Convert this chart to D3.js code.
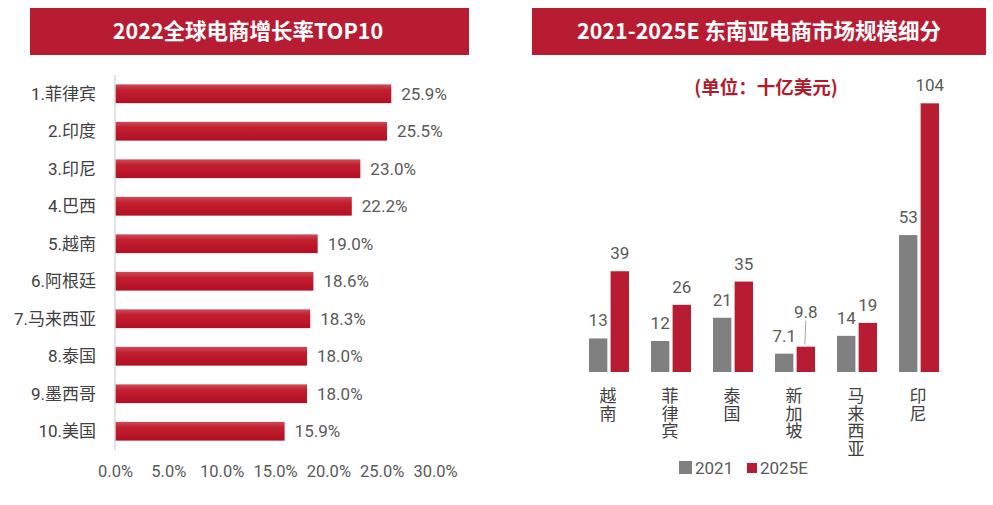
<!DOCTYPE html>
<html><head><meta charset="utf-8">
<script src="https://cdn.jsdelivr.net/npm/d3@7"></script>
<style>
html,body{margin:0;padding:0;background:#fff;}
svg{display:block;}
</style></head>
<body>
<svg id="c" width="993" height="505"></svg>
<script>
// ---------- data ----------
const leftTitle = "2022全球电商增长率TOP10";
const leftCats = ["1.菲律宾","2.印度","3.印尼","4.巴西","5.越南","6.阿根廷","7.马来西亚","8.泰国","9.墨西哥","10.美国"];
const leftVals = [25.9,25.5,23.0,22.2,19.0,18.6,18.3,18.0,18.0,15.9];
const leftTicks = [0,5,10,15,20,25,30];

const rightTitle = "2021-2025E 东南亚电商市场规模细分";
const unitText = "(单位：十亿美元)";
const rightCats = ["越南","菲律宾","泰国","新加坡","马来西亚","印尼"];
const seriesNames = ["2021","2025E"];
const vals2021 = [13,12,21,7.1,14,53];
const vals2025 = [39,26,35,9.8,19,104];

// ---------- styles ----------
const RED = "#b81c32";
const GRAY = "#808080";
const TXT = "#595959";
const CAT = "#404040";
const NUMF = "Roboto, 'Noto Sans CJK SC', sans-serif";
const CJKF = "'Noto Sans CJK SC', sans-serif";

const svg = d3.select("#c");
const defs = svg.append("defs");
const grad = defs.append("linearGradient").attr("id","barGrad").attr("x1",0).attr("y1",0).attr("x2",0).attr("y2",1);
grad.append("stop").attr("offset","0%").attr("stop-color","#cf4a5a");
grad.append("stop").attr("offset","30%").attr("stop-color","#c2202f");
grad.append("stop").attr("offset","100%").attr("stop-color","#b30f25");

// ---------- left panel ----------
svg.append("rect").attr("x",30).attr("y",8).attr("width",439).attr("height",47).attr("fill",RED);
svg.append("text").attr("x",248).attr("y",39).attr("text-anchor","middle")
  .attr("fill","#fff").attr("font-family",CJKF).attr("font-weight","bold").attr("font-size",21.5)
  .text(leftTitle);

const xL = d3.scaleLinear().domain([0,30]).range([115,435]);
const yL = d3.scaleBand().domain(leftCats).range([75,450]).paddingInner(0.5).paddingOuter(0.25);

const gL = svg.append("g");
gL.selectAll("rect.bar").data(leftVals).join("rect").attr("class","bar")
  .attr("x",xL(0)).attr("y",(d,i)=>yL(leftCats[i]))
  .attr("width",d=>xL(d)-xL(0)).attr("height",yL.bandwidth())
  .attr("fill","url(#barGrad)");

gL.append("line").attr("x1",xL(0)).attr("x2",xL(0)).attr("y1",75).attr("y2",450)
  .attr("stroke","#d9d9d9").attr("stroke-width",1.5);

gL.selectAll("text.cat").data(leftCats).join("text").attr("class","cat")
  .attr("x",96).attr("y",d=>yL(d)+yL.bandwidth()/2).attr("dy","0.35em")
  .attr("text-anchor","end").attr("fill",CAT).attr("font-family",NUMF).attr("font-size",17)
  .text(d=>d);

gL.selectAll("text.val").data(leftVals).join("text").attr("class","val")
  .attr("x",d=>xL(d)+10).attr("y",(d,i)=>yL(leftCats[i])+yL.bandwidth()/2).attr("dy","0.35em")
  .attr("fill",TXT).attr("font-family",NUMF).attr("font-size",17)
  .text(d=>d.toFixed(1)+"%");

const axL = d3.axisBottom(xL).tickValues(leftTicks).tickSize(0).tickFormat(d=>d.toFixed(1)+"%");
const axLg = svg.append("g").attr("transform","translate(0,462)").call(axL);
axLg.select(".domain").remove();
axLg.selectAll("text").attr("fill",TXT).attr("font-family",NUMF).attr("font-size",16.5).attr("dy","0.71em");

// ---------- right panel ----------
svg.append("rect").attr("x",532).attr("y",8).attr("width",454).attr("height",47).attr("fill",RED);
svg.append("text").attr("x",759).attr("y",39).attr("text-anchor","middle")
  .attr("fill","#fff").attr("font-family",CJKF).attr("font-weight","bold").attr("font-size",21.5)
  .text(rightTitle);

svg.append("text").attr("x",766).attr("y",94).attr("text-anchor","middle")
  .attr("fill","#b01c2e").attr("font-family",CJKF).attr("font-weight","bold").attr("font-size",18.5)
  .text(unitText);

const x0 = d3.scaleBand().domain(rightCats).range([578,950]).paddingInner(22/62).paddingOuter(0.177);
const x1 = d3.scaleBand().domain(seriesNames).range([0,x0.bandwidth()]).paddingInner(0.15);
const yR = d3.scaleLinear().domain([0,120]).range([372,62]);
const colors = {"2021":GRAY,"2025E":RED};

const rows = [];
rightCats.forEach((c,i)=>{
  rows.push({cat:c,s:"2021",v:vals2021[i]});
  rows.push({cat:c,s:"2025E",v:vals2025[i]});
});

const gR = svg.append("g");
gR.selectAll("rect").data(rows).join("rect")
  .attr("x",d=>x0(d.cat)+x1(d.s)).attr("y",d=>yR(d.v))
  .attr("width",x1.bandwidth()).attr("height",d=>yR(0)-yR(d.v))
  .attr("fill",d=>colors[d.s]);

// a label that collides with its neighbour is lifted and joined by a leader line
const lifted = {cat:"新加坡", s:"2025E", lift:17};
gR.selectAll("text.v").data(rows).join("text").attr("class","v")
  .attr("x",d=>x0(d.cat)+x1(d.s)+x1.bandwidth()/2)
  .attr("y",d=>yR(d.v)-12-((d.cat===lifted.cat&&d.s===lifted.s)?lifted.lift:0))
  .attr("text-anchor","middle").attr("fill",TXT).attr("font-family",NUMF).attr("font-size",17)
  .text(d=>String(d.v));
rows.filter(d=>d.cat===lifted.cat&&d.s===lifted.s).forEach(d=>{
  const cx = x0(d.cat)+x1(d.s)+x1.bandwidth()/2;
  gR.append("line").attr("x1",cx).attr("x2",cx-1).attr("y1",yR(d.v)-lifted.lift-9).attr("y2",yR(d.v)-2)
    .attr("stroke","#a6a6a6").attr("stroke-width",1);
});

// vertical category labels (upright CJK, top to bottom)
gR.selectAll("text.cat").data(rightCats).join("text").attr("class","cat")
  .attr("x",d=>x0(d)+x0.bandwidth()/2-1).attr("y",387)
  .style("writing-mode","vertical-rl").style("letter-spacing","0.6px")
  .attr("text-anchor","start").attr("fill",CAT)
  .attr("font-family",CJKF).attr("font-size",17)
  .text(d=>d);

// legend
const lg = svg.append("g");
lg.append("rect").attr("x",679).attr("y",461).attr("width",13).attr("height",13).attr("fill",GRAY);
lg.append("text").attr("x",695).attr("y",473.5).attr("fill",TXT).attr("font-family",NUMF).attr("font-size",17).text(seriesNames[0]);
lg.append("rect").attr("x",747).attr("y",463).attr("width",10).attr("height",10).attr("fill",RED);
lg.append("text").attr("x",760).attr("y",473.5).attr("fill",TXT).attr("font-family",NUMF).attr("font-size",17).text(seriesNames[1]);
</script>
</body></html>
